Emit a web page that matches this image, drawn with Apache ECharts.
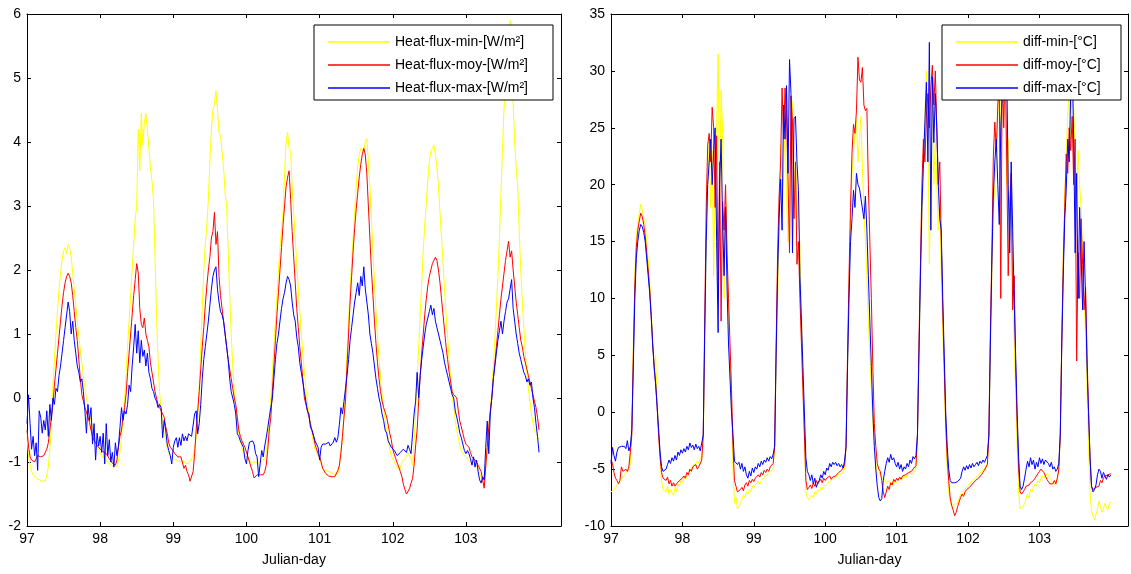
<!DOCTYPE html>
<html><head><meta charset="utf-8">
<script src="https://cdn.jsdelivr.net/npm/echarts/dist/echarts.min.js"></script>
<style>html,body{margin:0;padding:0;background:#fff}#c{width:1131px;height:574px}</style>
</head><body><div id="c"></div>
<script>
// sampling: one value every 30 minutes, starting at Julian day 97
const startDay = 97;
const samplesPerDay = 48;
const xTickValues = [97, 98, 99, 100, 101, 102, 103];
const xLabel = 'Julian-day';
const fluxNames = ['Heat-flux-min-[W/m²]', 'Heat-flux-moy-[W/m²]', 'Heat-flux-max-[W/m²]'];
const diffNames = ['diff-min-[°C]', 'diff-moy-[°C]', 'diff-max-[°C]'];

// Heat flux [W/m²]
const fluxMin = [
-0.6,-0.9,-1.05,-1.15,-1.2,-1.23,-1.25,-1.27,-1.28,-1.25,-1.3,-1.3,-1.3,-1.2,-1.08,-0.8,-0.3,0.2,0.6,1.0,1.35,1.7,1.95,2.15,2.3,2.35,2.25,2.4,2.35,2.2,1.95,1.7,1.45,1.2,0.95,0.75,0.55,0.35,0.15,0.0,-0.15,-0.25,-0.35,-0.45,-0.55,-0.65,-0.72,-0.8,
-0.85,-0.9,-0.92,-0.95,-0.97,-1.0,-1.02,-1.05,-1.05,-1.06,-1.08,-1.08,-1.05,-0.85,-0.6,-0.35,-0.05,0.4,0.8,1.2,1.6,2.0,2.4,2.8,3.0,4.2,3.55,4.45,3.95,4.3,4.45,4.2,3.9,3.6,3.4,3.1,2.2,1.3,0.6,0.1,-0.2,-0.4,-0.55,-0.67,-0.78,-0.85,-0.9,-0.92,
-0.95,-0.97,-0.97,-1.0,-1.0,-1.0,-0.98,-1.0,-1.02,-1.03,-1.03,-1.0,-0.95,-0.9,-0.8,-0.6,-0.4,0.2,0.8,1.4,2.0,2.4,2.7,3.1,3.7,4.2,4.5,4.6,4.8,4.5,4.15,4.1,4.1,3.6,3.2,3.0,2.3,1.6,1.0,0.5,0.1,-0.2,-0.4,-0.55,-0.68,-0.78,-0.85,-0.9,
-0.92,-0.95,-1.0,-1.0,-1.0,-0.98,-1.0,-1.02,-1.0,-1.0,-0.98,-0.95,-0.95,-0.85,-0.65,-0.35,0.0,0.4,0.8,1.2,1.6,2.0,2.35,2.65,2.9,3.5,4.0,4.15,3.9,3.85,3.3,2.9,2.5,2.1,1.7,1.35,1.0,0.7,0.4,0.15,-0.05,-0.25,-0.4,-0.55,-0.7,-0.8,-0.85,-0.85,
-0.95,-1.03,-1.1,-1.12,-1.13,-1.13,-1.15,-1.15,-1.17,-1.18,-1.2,-1.2,-1.18,-1.05,-0.85,-0.6,-0.3,0.2,0.7,1.2,1.7,2.1,2.5,2.9,3.3,3.6,3.8,3.9,3.9,3.85,4.0,4.05,3.7,3.3,2.8,2.3,1.8,1.35,0.95,0.6,0.3,0.05,-0.15,-0.35,-0.5,-0.65,-0.8,-0.9,
-0.95,-1.0,-1.05,-1.1,-1.13,-1.1,-1.0,-0.97,-0.95,-0.9,-0.85,-0.82,-0.95,-1.05,-0.7,-0.2,0.3,0.8,1.3,1.8,2.3,2.7,3.05,3.4,3.7,3.85,3.9,3.95,3.8,3.6,3.3,2.9,2.5,2.1,1.7,1.3,0.95,0.6,0.3,0.05,-0.15,-0.35,-0.5,-0.62,-0.75,-0.82,-0.87,-0.9,
-0.92,-0.95,-0.98,-1.0,-1.02,-1.05,-1.05,-1.08,-1.1,-1.15,-1.25,-1.3,-1.33,-1.1,-0.75,-0.45,-0.2,0.1,0.5,0.9,1.4,1.9,2.5,3.2,3.9,4.5,5.0,5.4,5.7,5.9,5.5,4.6,4.0,3.6,3.3,2.6,2.0,1.5,1.1,0.7,0.4,0.15,-0.05,-0.25,-0.4,-0.5,-0.55,-0.6,-0.65
];
const fluxMoy = [
-0.5,-0.75,-0.92,-0.97,-1.0,-1.0,-0.95,-0.9,-0.9,-0.92,-0.93,-0.9,-0.92,-0.8,-0.7,-0.5,-0.3,-0.1,0.2,0.45,0.7,0.95,1.2,1.45,1.65,1.8,1.9,1.95,1.9,1.8,1.6,1.35,1.1,0.9,0.6,0.3,0.05,-0.05,-0.15,-0.22,-0.3,-0.38,-0.5,-0.6,-0.66,-0.7,-0.74,-0.77,
-0.8,-0.82,-0.84,-0.86,-0.87,-0.9,-0.95,-0.98,-1.02,-1.03,-1.05,-0.97,-0.77,-0.6,-0.5,-0.3,-0.15,0.05,0.4,0.7,1.0,1.3,1.6,1.85,2.1,1.95,1.4,1.15,1.1,1.25,1.0,0.9,0.8,0.55,0.4,0.25,0.1,0.0,-0.1,-0.15,-0.2,-0.25,-0.3,-0.45,-0.55,-0.7,-0.77,-0.8,
-0.83,-0.87,-0.9,-0.92,-0.92,-0.92,-0.93,-1.1,-1.05,-1.15,-1.2,-1.3,-1.33,-1.15,-0.87,-0.5,-0.2,0.1,0.45,0.8,1.1,1.45,1.75,2.0,2.2,2.5,2.6,2.9,2.4,2.6,1.9,1.6,1.4,1.2,1.0,0.8,0.6,0.45,0.3,0.15,0.0,-0.1,-0.3,-0.5,-0.6,-0.67,-0.72,-0.77,
-0.8,-0.92,-1.0,-1.08,-1.15,-1.25,-1.23,-1.2,-1.18,-1.2,-1.18,-1.2,-1.15,-1.05,-0.8,-0.5,-0.3,0.1,0.5,0.9,1.3,1.65,2.0,2.35,2.7,3.0,3.3,3.45,3.55,3.1,2.6,2.2,1.8,1.4,1.1,0.8,0.55,0.3,0.0,-0.1,-0.2,-0.3,-0.4,-0.51,-0.6,-0.72,-0.8,-0.87,
-0.92,-1.0,-1.1,-1.13,-1.18,-1.2,-1.22,-1.23,-1.23,-1.23,-1.23,-1.2,-1.13,-1.05,-0.85,-0.6,-0.3,-0.05,0.5,1.0,1.5,1.9,2.3,2.65,2.95,3.2,3.45,3.65,3.8,3.9,3.8,3.5,3.0,2.5,2.0,1.6,1.2,0.85,0.55,0.3,0.1,-0.05,-0.15,-0.22,-0.3,-0.42,-0.55,-0.65,
-0.8,-0.88,-0.95,-1.02,-1.08,-1.15,-1.23,-1.35,-1.43,-1.5,-1.51,-1.42,-1.33,-1.26,-1.05,-0.75,-0.5,-0.05,0.35,0.7,1.0,1.3,1.55,1.75,1.9,2.0,2.1,2.15,2.2,2.15,2.0,1.8,1.55,1.3,1.05,0.8,0.6,0.4,0.25,0.1,0.05,0.02,0.0,-0.2,-0.36,-0.45,-0.55,-0.65,
-0.72,-0.75,-0.77,-0.85,-0.92,-0.95,-0.97,-1.0,-1.05,-1.08,-1.15,-1.28,-1.41,-1.08,-0.77,-0.46,-0.2,0.0,0.3,0.55,0.8,1.05,1.3,1.55,1.75,1.95,2.15,2.3,2.45,2.2,2.3,2.0,1.75,1.5,1.3,1.1,0.9,0.8,0.65,0.55,0.45,0.35,0.25,0.15,0.05,-0.05,-0.15,-0.3,-0.5
];
const fluxMax = [
-0.4,0.05,-0.4,-0.8,-0.6,-0.9,-0.7,-1.13,-0.2,-0.3,-0.55,-0.35,-0.5,-0.2,-0.6,-0.1,-0.35,0.0,-0.1,0.15,0.1,0.35,0.5,0.7,0.9,1.1,1.3,1.5,1.35,1.0,1.2,0.9,0.7,0.5,0.4,0.25,0.3,0.1,-0.2,-0.55,-0.1,-0.35,-0.15,-0.72,-0.4,-0.97,-0.55,-0.75,
-0.6,-0.85,-0.55,-1.03,-0.4,-0.9,-0.65,-1.0,-0.85,-1.08,-0.7,-0.9,-0.75,-0.46,-0.15,-0.35,-0.2,-0.25,-0.1,0.2,0.1,0.5,0.8,1.15,0.7,1.05,0.55,0.9,0.65,0.75,0.5,0.7,0.4,0.3,0.15,0.1,0.0,-0.05,-0.15,-0.1,-0.15,-0.62,-0.35,-0.5,-0.72,-0.82,-0.9,-1.03,
-0.77,-0.67,-0.62,-0.77,-0.62,-0.74,-0.56,-0.67,-0.6,-0.67,-0.56,-0.54,-0.6,-0.62,-0.25,-0.2,-0.56,-0.4,-0.1,0.3,0.6,0.8,1.0,1.2,1.45,1.7,1.9,2.0,2.05,1.7,1.5,1.35,1.3,1.2,1.0,0.8,0.6,0.3,0.1,0.0,-0.1,-0.25,-0.56,-0.6,-0.67,-0.72,-0.77,-0.95,
-1.03,-0.82,-0.69,-0.72,-0.67,-0.72,-0.87,-0.92,-1.23,-1.03,-0.82,-0.92,-0.75,-0.62,-0.46,-0.3,-0.15,0.0,0.3,0.6,0.85,1.0,1.2,1.4,1.55,1.65,1.8,1.9,1.85,1.75,1.5,1.3,1.2,0.95,0.8,0.55,0.4,0.25,0.1,-0.05,-0.2,-0.25,-0.46,-0.5,-0.51,-0.67,-0.72,-0.77,
-0.97,-0.77,-0.72,-0.7,-0.72,-0.75,-0.69,-0.75,-0.72,-0.69,-0.62,-0.69,-0.62,-0.41,-0.15,-0.25,-0.05,0.15,0.35,0.6,0.9,1.1,1.3,1.5,1.65,1.8,1.6,1.9,1.75,2.05,1.7,1.5,1.3,1.0,0.85,0.7,0.5,0.3,0.15,0.0,-0.1,-0.25,-0.35,-0.5,-0.55,-0.67,-0.7,-0.77,
-0.77,-0.82,-0.85,-0.9,-0.87,-0.85,-0.82,-0.8,-0.82,-0.85,-0.74,-0.8,-0.87,-0.56,-0.25,-0.05,0.4,0.0,0.35,0.6,0.8,1.0,1.15,1.25,1.35,1.45,1.3,1.4,1.2,1.1,1.0,0.9,0.8,0.7,0.55,0.45,0.35,0.25,0.15,0.05,0.0,-0.2,-0.3,-0.41,-0.55,-0.62,-0.72,-0.82,
-0.87,-0.82,-0.87,-0.95,-1.05,-0.92,-1.08,-0.97,-1.15,-1.28,-1.33,-1.23,-1.28,-0.77,-0.36,-0.87,-0.25,0.0,0.3,0.5,0.7,0.9,1.05,1.2,1.0,1.2,1.35,1.5,1.55,1.7,1.85,1.4,1.2,1.0,0.85,0.7,0.6,0.5,0.4,0.35,0.25,0.3,0.2,0.25,0.0,-0.15,-0.4,-0.6,-0.85
];

// Temperature difference [°C]
const diffMin = [
-7.0,-7.0,-6.8,-6.6,-6.4,-6.3,-6.1,-5.9,-5.7,-5.5,-5.3,-5.2,-5.1,-4.5,
-1,6,12,15.5,16.5,17.5,18.3,17.8,17,16.5,15,13.5,11.5,9,6.5,3.5,5,1,-1.5,-4,-6,-6.8,
-6.8,-7.0,-6.5,-7.2,-6.8,-7.1,-7.3,-6.6,-7.0,-6.3,-6.5,-6.0,
-6.2,-5.9,-5.6,-5.8,-5.3,-5.0,-5.2,-4.7,-4.8,-4.5,-4.3,-4.5,-4.0,-3.8,
-3,6,15,20,24,18,23,12,20,25,31.5,19,28.3,24.8,10,19,15,8,4,0,-5,-8,
-7.5,-8.5,-8.3,-8.0,-7.7,-7.3,-7.5,-7.0,-7.2,-6.8,-7.0,-6.5,
-6.7,-6.4,-6.5,-6.1,-6.3,-6.0,-5.9,-5.7,-5.8,-5.5,-5.6,-5.3,-5.4,-5.0,
-3,4,10,16,23.5,18,21,25,19,15,22,24,27.3,18,22.8,16,19.5,14,9,3,-2,-7,
-7.5,-7.7,-7.6,-7.3,-7.5,-7.0,-7.2,-6.8,-7.0,-6.6,-6.8,-6.5,
-6.6,-6.3,-6.4,-6.1,-6.2,-5.9,-6.0,-5.7,-5.8,-5.5,-5.6,-5.4,-5.3,-5.0,
-3,4,11,17,21,23,24.5,25.7,22,24,26,21.5,18,15,12,8,5,2,-1,-3,-4.5,-5.5,
-5.2,-5.5,-5.4,-5.8,-6.0,-6.2,-6.3,-6.0,-6.4,-6.1,-6.3,-6.0,
-6.2,-5.9,-6.0,-5.7,-5.9,-5.6,-5.8,-5.5,-5.6,-5.3,-5.5,-5.6,-5.2,-4.8,
-2,5,11,17,22,26,30,25,13,22,28,20,24,20,16,19,12,7,3,-2,-5,-7,
-7.8,-8.2,-8.2,-8.1,-8.2,-8.0,-7.6,-7.2,-7.4,-6.9,-7.0,-6.6,
-6.7,-6.3,-6.2,-6.0,-6.1,-5.8,-5.7,-5.5,-5.4,-5.2,-5.1,-5.0,-4.9,-4.5,
-2,5,12,18,20,22,26,30,24,29,31,26,20,24,15,19,10,6,2,-3,-7,-8.5,
-8.5,-8.3,-8.0,-7.6,-7.2,-7.5,-6.8,-7.0,-6.6,-6.3,-6.5,-6.0,
-6.2,-5.8,-5.6,-5.8,-5.5,-5.6,-5.5,-5.8,-6.0,-6.3,-6.2,-6.3,-5.8,-5.0,
-2,7,14,19,22.5,26,29,24,30,27,22,19,23,20,18,14,10,7,2,-3,-7,-8.7,
-8.8,-9.5,-9.0,-8.5,-7.8,-8.3,-8.8,-8.5,-8.0,-8.4,-8.6,-8.0,-7.9
];
const diffMoy = [
-4.2,-4.5,-5.3,-5.8,-6.0,-6.3,-6.0,-4.8,-5.2,-5.3,-5.0,-5.2,-4.8,-3.5,
-2,5,11,14.5,16,16.8,17.5,17.2,16.5,15.5,14,12.5,10.8,8.5,6,4,2.5,0.5,-2,-4,-5.3,-5.8,
-5.8,-6.0,-5.7,-6.3,-6.0,-6.5,-6.2,-6.5,-6.3,-6.4,-6.0,-6.1,
-5.8,-5.6,-5.8,-5.3,-5.5,-5.0,-5.2,-4.8,-4.9,-4.6,-5.0,-4.8,-4.7,-4.2,
-2,8,18,23.5,24.5,22,26.8,25,18,24.3,10,22,8,18.5,16,20,14,10,6,2,-3,-6,
-6.5,-7.0,-7.1,-6.8,-6.6,-6.9,-6.4,-6.2,-6.5,-6.0,-6.2,-5.9,
-6.1,-5.8,-5.9,-5.5,-5.7,-5.3,-5.5,-5.1,-5.3,-5.0,-5.2,-4.8,-4.9,-4.5,
-3,6,14,19,22,28.5,24,28.5,26,20.3,14,27.8,25.5,17,22,13,15,10,6,2,-2,-6,
-6.8,-6.6,-6.4,-6.7,-6.2,-6.5,-6.0,-6.3,-6.1,-5.9,-6.2,-5.8,
-6.0,-5.8,-5.9,-5.6,-5.9,-5.7,-5.8,-5.6,-5.5,-5.3,-5.4,-5.1,-5.0,-4.7,
-3,5,12,18,22.8,25.3,24.5,26.5,31.2,29.2,29,30.3,27,26.5,26.7,20,15,10,4,-1,-3,-4.5,
-5.0,-5.2,-6.0,-7.0,-7.5,-7.0,-6.5,-6.8,-6.2,-6.4,-5.9,-6.1,
-5.8,-6.0,-5.7,-5.9,-5.6,-5.7,-5.5,-5.6,-5.3,-5.4,-5.2,-5.0,-5.1,-4.7,
-2,6,13,20,24,22,26,28,25,28.5,30.5,27,30,25,20,22,15,9,4,-1,-4,-6,
-7.5,-8.2,-8.6,-9.1,-8.8,-8.3,-7.9,-7.5,-7.2,-7.4,-7.0,-6.8,
-6.9,-6.6,-6.7,-6.3,-6.4,-6.0,-6.1,-5.8,-5.7,-5.5,-5.3,-5.1,-5.0,-4.6,
-2,7,14,22.5,25.5,23,27,29,10,30.5,25,31,22,12,18,21,9,12,4,-1,-5,-7,
-7.2,-7.0,-6.8,-6.5,-6.6,-6.4,-6.2,-6.3,-6.0,-5.8,-5.6,-5.4,
-5.2,-5.0,-5.1,-5.3,-5.6,-5.9,-6.1,-6.3,-6.2,-6.3,-6.0,-6.3,-5.8,-5.0,
-2,6,13,18,22.7,21,25,23,26,20,24,4.5,14,10,17,13,9,11,5,0,-4,-6.5,
-6.8,-6.9,-6.6,-6.7,-6.5,-6.0,-6.2,-5.8,-5.6,-5.7,-5.5,-5.4,-5.4
];
const diffMax = [
-4.5,-3.1,-3.8,-4.3,-3.5,-3.1,-3.2,-3.0,-3.1,-3.0,-3.2,-2.5,-3.4,-3.0,
-1.5,4,10,13.5,15,16,16.5,16.3,15.8,15,13.5,12,10.5,8.5,6,4,2.5,0.5,-1.5,-3.5,-4.8,-5.2,
-5.2,-5.0,-4.6,-4.2,-4.5,-4.0,-4.3,-3.8,-4.2,-3.5,-3.8,-3.3,
-3.6,-3.2,-3.5,-3.0,-3.3,-2.7,-3.1,-2.9,-3.3,-2.8,-3.2,-3.0,-3.4,-2.7,
-2,7,15,20,22,24,20,23,25,15,7,20,24,17,12,18,11,6,3,0,-2,-4.3,
-4.3,-4.6,-4.4,-5.0,-4.5,-5.2,-4.8,-5.5,-5.8,-5.2,-5.6,-4.9,
-5.3,-4.8,-5.0,-4.5,-4.8,-4.3,-4.6,-4.2,-4.4,-4.0,-4.3,-3.9,-4.1,-3.7,
-3,5,12,17,20.5,16,27,24,28.7,21,31,28,14,25.8,26,22,19.5,12,8,4,0,-4,
-5.2,-5.5,-6.0,-5.5,-6.3,-5.8,-6.6,-6.2,-6.0,-5.5,-5.8,-5.2,
-5.5,-4.9,-5.1,-4.5,-4.8,-4.4,-4.6,-4.4,-4.7,-4.5,-4.8,-4.6,-4.9,-4.3,
-3,4,10,15,17,19.5,18,21,20,19.7,18.8,18.8,17,19,16,12,8,4,0,-3,-5,-6.5,
-7.5,-7.8,-7.6,-6.0,-5.2,-4.5,-4.0,-4.4,-3.7,-4.2,-4.0,-4.5,
-4.8,-4.4,-5.0,-4.6,-5.2,-4.8,-5.0,-4.5,-4.8,-4.2,-4.5,-3.9,-4.1,-3.8,
-2,5,12,18,21.8,25.5,29,22,32.5,16,29.5,23.7,28,25,20,17,16,10,5,0,-3,-5,
-6.0,-6.2,-6.3,-6.2,-6.3,-6.1,-6.2,-5.8,-5.2,-4.8,-5.1,-4.7,
-5.0,-4.6,-4.9,-4.5,-4.8,-4.6,-4.4,-4.7,-4.3,-4.5,-4.2,-4.4,-4.3,-3.8,
-2,6,13,19,22,24,20,16.5,25,28,31,28.5,30,20,14,22,16,10,5,0,-4,-6.5,
-6.8,-6.5,-5.8,-5.0,-4.3,-4.8,-4.0,-4.6,-4.2,-5.0,-4.4,-4.8,
-4.0,-4.5,-4.1,-4.6,-4.2,-4.3,-4.5,-4.8,-4.4,-5.0,-4.8,-5.2,-5.0,-4.5,
-2,6,12,17,19.5,24,22,28,31,24,14,21,10,18,14,9,15,10,4,0,-4,-6.5,
-7.0,-6.8,-6.4,-5.5,-5.0,-5.2,-5.8,-5.3,-5.6,-5.9,-5.5,-5.7,-5.5
];

const colors = ['#ffff00', '#ff0000', '#0000ff'];
const font = '"Liberation Sans", Arial, Helvetica, sans-serif';

function pairs(arr) { return arr.map((v, i) => [startDay + i / samplesPerDay, v]); }

function xAxisDef(gi, pos, max, main) {
  return {
    type: 'value', gridIndex: gi, position: pos, min: 97, max: max,
    axisLine: { show: true, onZero: false, lineStyle: { color: '#000', width: 1 } },
    axisTick: { show: true, inside: true, length: 4, customValues: xTickValues, lineStyle: { color: '#000', width: 1 } },
    axisLabel: { show: main, customValues: xTickValues, color: '#000', fontSize: 14, fontFamily: font, margin: 6 },
    splitLine: { show: false },
    name: main ? xLabel : '', nameLocation: 'middle', nameGap: 27,
    nameTextStyle: { color: '#000', fontSize: 14, fontFamily: font }
  };
}
function yAxisDef(gi, pos, min, max, interval, main) {
  return {
    type: 'value', gridIndex: gi, position: pos, min: min, max: max, interval: interval,
    axisLine: { show: true, onZero: false, lineStyle: { color: '#000', width: 1 } },
    axisTick: { show: true, inside: true, length: 4, lineStyle: { color: '#000', width: 1 } },
    axisLabel: { show: main, color: '#000', fontSize: 14, fontFamily: font, margin: 6 },
    splitLine: { show: false }
  };
}
function lineSeries(name, data, ci, xi, yi) {
  return {
    name: name, type: 'line', data: pairs(data), xAxisIndex: xi, yAxisIndex: yi,
    showSymbol: false, symbol: 'none', color: colors[ci],
    lineStyle: { color: colors[ci], width: 1 }, animation: false, clip: true
  };
}
function legendDef(names, left, textWidth) {
  return {
    data: names, left: left, top: 25, orient: 'vertical', icon: 'rect',
    itemWidth: 62, itemHeight: 1.5, itemGap: 9, padding: [10, 10, 5, 14],
    backgroundColor: '#fff', borderColor: '#000', borderWidth: 1, borderRadius: 0,
    textStyle: { color: '#000', fontSize: 14, lineHeight: 14, fontFamily: font, width: textWidth },
    selectedMode: false
  };
}

const chart = echarts.init(document.getElementById('c'));
chart.setOption({
  animation: false,
  backgroundColor: '#fff',
  grid: [
    { left: 27, top: 14, width: 534, bottom: 48 },
    { left: 611, top: 14, right: 3, bottom: 48 }
  ],
  xAxis: [
    xAxisDef(0, 'bottom', 104.3, true), xAxisDef(0, 'top', 104.3, false),
    xAxisDef(1, 'bottom', 104.24, true), xAxisDef(1, 'top', 104.24, false)
  ],
  yAxis: [
    yAxisDef(0, 'left', -2, 6, 1, true), yAxisDef(0, 'right', -2, 6, 1, false),
    yAxisDef(1, 'left', -10, 35, 5, true), yAxisDef(1, 'right', -10, 35, 5, false)
  ],
  legend: [legendDef(fluxNames, 314, 148), legendDef(diffNames, 942, 88)],
  series: [
    lineSeries(fluxNames[0], fluxMin, 0, 0, 0),
    lineSeries(fluxNames[1], fluxMoy, 1, 0, 0),
    lineSeries(fluxNames[2], fluxMax, 2, 0, 0),
    lineSeries(diffNames[0], diffMin, 0, 2, 2),
    lineSeries(diffNames[1], diffMoy, 1, 2, 2),
    lineSeries(diffNames[2], diffMax, 2, 2, 2)
  ]
});
</script></body></html>
